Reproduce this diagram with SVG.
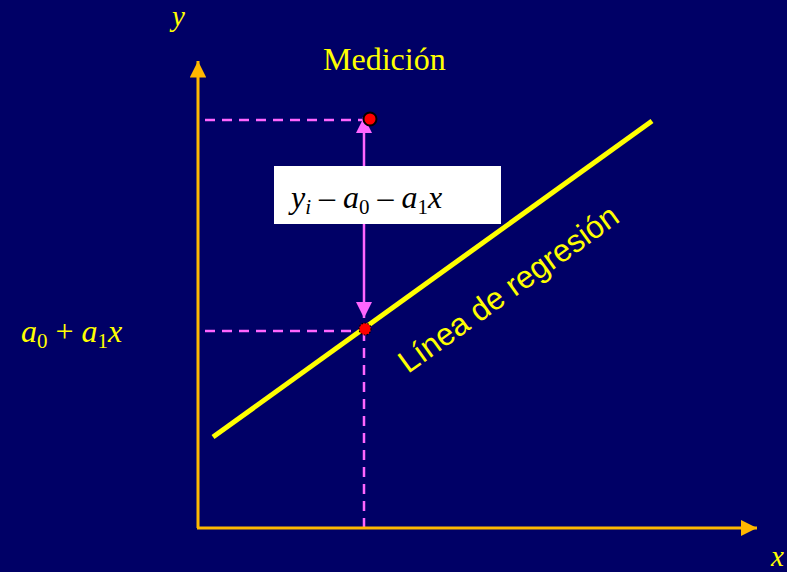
<svg xmlns="http://www.w3.org/2000/svg" width="787" height="572" viewBox="0 0 787 572">
<defs>
<style>
.t{font-family:"Liberation Serif","Times New Roman",serif;fill:#ffff00}
.i{font-style:italic}
.ax{stroke:#ffb800;stroke-width:3;fill:none}
.dash{stroke:#ff66ff;stroke-width:2.5;stroke-dasharray:10,7;fill:none}
</style>
<marker id="axh" viewBox="0 0 10 10" refX="10" refY="5" markerWidth="5.5" markerHeight="5.5" markerUnits="strokeWidth" orient="auto"><path d="M0,0 L10,5 L0,10 Z" fill="#ffb800"/></marker>
<marker id="pk" viewBox="0 0 10 10" refX="10" refY="5" markerWidth="6.5" markerHeight="6.5" markerUnits="strokeWidth" orient="auto-start-reverse"><path d="M0,0 L10,5 L0,10 Z" fill="#ff66ff"/></marker>
</defs>
<rect width="787" height="572" fill="#000066"/>
<g id="connectors">
<line class="dash" x1="205" y1="120" x2="365" y2="120"/>
<line class="dash" x1="205" y1="331" x2="365" y2="331"/>
<line class="dash" x1="364" y1="331" x2="364" y2="528"/>
<line x1="364" y1="117" x2="364" y2="318" stroke="#ff66ff" stroke-width="2.5" marker-start="url(#pk)" marker-end="url(#pk)"/>
<line class="ax" x1="198" y1="528" x2="198" y2="61" marker-end="url(#axh)"/>
<line class="ax" x1="197" y1="528" x2="757" y2="528" marker-end="url(#axh)"/>
<line x1="213" y1="437" x2="652" y2="121" stroke="#ffff00" stroke-width="5"/>
</g>
<g id="measure"><circle cx="370" cy="119" r="6.5" fill="#ff0000" stroke="#000" stroke-width="2"/></g>
<g id="fitted"><circle cx="365" cy="329" r="6" fill="#ff0000" stroke="#000" stroke-width="1.2" stroke-dasharray="1.5,1.5"/></g>
<g id="residual">
<rect x="274" y="166" width="227" height="58" fill="#ffffff"/>
<text class="t i" x="291" y="208" font-size="32" style="fill:#000"><tspan>y</tspan><tspan font-size="21" dy="6">i</tspan><tspan dy="-6" font-style="normal"> – </tspan><tspan>a</tspan><tspan font-size="21" dy="6" font-style="normal">0</tspan><tspan dy="-6" font-style="normal"> – </tspan><tspan>a</tspan><tspan font-size="21" dy="6" font-style="normal">1</tspan><tspan dy="-6">x</tspan></text>
</g>
<text class="t" x="323" y="70" font-size="32">Medición</text>
<text class="t i" x="172" y="26" font-size="29">y</text>
<text class="t i" x="771" y="566" font-size="29">x</text>
<text class="t i" x="21" y="342" font-size="32"><tspan>a</tspan><tspan font-size="21" dy="6" font-style="normal">0</tspan><tspan dy="-6" font-style="normal"> + </tspan><tspan>a</tspan><tspan font-size="21" dy="6" font-style="normal">1</tspan><tspan dy="-6">x</tspan></text>
<text x="0" y="0" font-family="Liberation Sans, Arial, sans-serif" font-size="31.5" fill="#ffff00" transform="translate(408,374) rotate(-35.7)">Línea de regresión</text>
</svg>
